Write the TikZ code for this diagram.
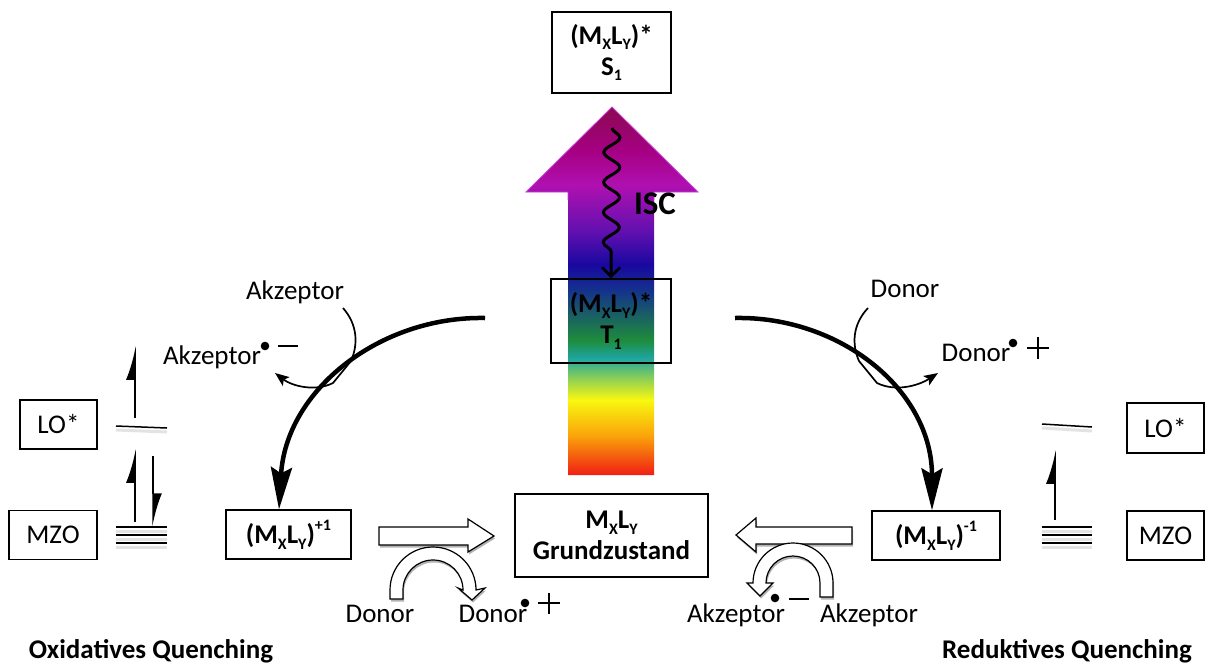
\documentclass[tikz,border=0pt]{standalone}
\usepackage{fontspec}
\setmainfont{Carlito}
\usetikzlibrary{arrows.meta,decorations.pathmorphing,shadows}
\definecolor{rbMaroon}{RGB}{139,10,80}
\definecolor{rbDeep}{RGB}{165,0,130}
\definecolor{rbMag}{RGB}{176,16,176}
\definecolor{rbPurple}{RGB}{100,16,176}
\definecolor{rbBlue}{RGB}{24,8,160}
\definecolor{rbDBlue}{RGB}{20,50,140}
\definecolor{rbGreen}{RGB}{30,140,60}
\definecolor{rbTeal}{RGB}{30,165,160}
\definecolor{rbLGreen}{RGB}{150,210,80}
\definecolor{rbYellow}{RGB}{248,248,16}
\definecolor{rbOrange}{RGB}{250,165,10}
\definecolor{rbRed}{RGB}{240,30,20}
\definecolor{rbEdge}{RGB}{200,60,220}
\pgfdeclareverticalshading{rainbowsh}{100bp}{color(0bp)=(rbRed); color(25bp)=(rbRed); color(30.43bp)=(rbOrange); color(35.19bp)=(rbYellow); color(37.91bp)=(rbLGreen); color(40.9bp)=(rbTeal); color(43.34bp)=(rbGreen); color(50.14bp)=(rbDBlue); color(53.53bp)=(rbBlue); color(58.29bp)=(rbPurple); color(64.4bp)=(rbMag); color(69.16bp)=(rbDeep); color(75bp)=(rbMaroon); color(100bp)=(rbMaroon)}
\newcommand{\subx}[1]{\raisebox{-0.45ex}{\fontsize{16}{16}\selectfont #1}}
\newcommand{\supx}[1]{\raisebox{1.0ex}{\fontsize{16}{16}\selectfont #1}}
\newcommand{\lblfont}{\fontsize{27}{31}\selectfont}
\begin{document}
\begin{tikzpicture}[x=1pt,y=-1pt,
  box/.style={draw, line width=1.3pt, inner sep=0pt, align=center, font=\lblfont\bfseries},
  rbox/.style={draw, line width=1.3pt, inner sep=0pt, align=center, font=\lblfont},
  txt/.style={inner sep=0pt, anchor=base, font=\lblfont},
  ttl/.style={inner sep=0pt, anchor=base, font=\lblfont\bfseries},
  bigarc/.style={line width=4.5pt, -{Stealth[length=42pt,width=21pt,inset=6pt]}},
  thinarc/.style={line width=1.7pt, -{Stealth[length=14pt,width=11pt,inset=3pt]}},
  lvl/.style={line width=1.5pt},
  lvlsh/.style={line width=3pt, gray!22},
  ex/.style={line width=1.5pt, -{Latex[harpoon,length=30pt,width=18pt]}},
  hollow/.style={draw, fill=white, line width=1.2pt, line join=miter,
    drop shadow={shadow xshift=1pt, shadow yshift=-2.5pt, opacity=0.3, fill=black}},
  pm/.style={line width=1.2pt}]
\useasboundingbox (0,0) rectangle (1210,664);

% rainbow excitation arrow
\shade[shading=rainbowsh] (568,475) -- (568,192) -- (526,192) -- (612,107) -- (698,192) -- (654,192) -- (654,475) -- cycle;
\draw[rbEdge, line width=0.8pt, line join=miter] (568,200) -- (568,192) -- (526,192) -- (612,107) -- (698,192) -- (654,192) -- (654,200);

% boxes
\node[box, minimum width=119pt, minimum height=81pt, fill=white] (s1) at (611.5,52.5) {(M\subx{X}L\subx{Y})*\\S\subx{1}};
\node[box, minimum width=120pt, minimum height=84pt] (t1) at (611,321) {(M\subx{X}L\subx{Y})*\\T\subx{1}};
\node[box, minimum width=193pt, minimum height=83pt] (gz) at (611.5,535.5) {M\subx{X}L\subx{Y}\\Grundzustand};
\node[box, minimum width=125pt, minimum height=49pt] (ox) at (288.5,534.5) {(M\subx{X}L\subx{Y})\supx{+1}};
\node[box, minimum width=128pt, minimum height=49pt] (rd) at (936,535.5) {(M\subx{X}L\subx{Y})\supx{-1}};
\node[rbox, minimum width=77pt, minimum height=49pt] (loL) at (58.5,424.5) {LO*};
\node[rbox, minimum width=88pt, minimum height=49pt] (mzoL) at (53,535) {MZO};
\node[rbox, minimum width=77pt, minimum height=50pt] (loR) at (1165.5,428) {LO*};
\node[rbox, minimum width=77pt, minimum height=49pt] (mzoR) at (1165.5,535.5) {MZO};

% ISC
\coordinate (iscstart) at (612,128);
\draw[line width=3pt, decorate, decoration={snake, amplitude=8pt, segment length=30pt, post length=16pt},
  -{Straight Barb[length=9pt,width=18pt,line width=2.8pt]}] (iscstart) -- (t1.north);
\node[inner sep=0pt, font=\fontsize{33}{36}\selectfont\bfseries] (isc) at (655,204) {ISC};

% labels
\node[txt] (akz1) at (295,299) {Akzeptor};
\node[txt] (akz2) at (212,364) {Akzeptor};
\node[txt] (don1) at (905,297) {Donor};
\node[txt] (don2) at (976,361) {Donor};
\node[txt] (don3) at (380,622) {Donor};
\node[txt] (don4) at (493,622) {Donor};
\node[txt] (akz3) at (736,622) {Akzeptor};
\node[txt] (akz4) at (869,622) {Akzeptor};
\node[ttl] (oxq) at (151,658) {Oxidatives Quenching};
\node[ttl] (redq) at (1067,658) {Reduktives Quenching};

% radical signs
\fill (265,346) circle (4.3pt);
\draw[pm] (278,346) -- (298,346);
\fill (1013,343) circle (4.3pt);
\draw[pm] (1027,348) -- (1049,348); \draw[pm] (1038,337) -- (1038,359);
\fill (525,603) circle (4.3pt);
\draw[pm] (538,603) -- (560,603); \draw[pm] (549,593) -- (549,614);
\fill (775,598) circle (4.3pt);
\draw[pm] (789,599) -- (809,599);

% thin side arrows
\coordinate (a1s) at (343,308);
\coordinate (a1e) at (275,373);
\draw[thinarc] (a1s) .. controls (358,325) and (358,345) .. (351,361) -- (333,383) .. controls (315,392) and (292,386) .. (a1e);
\coordinate (d1s) at (868,308);
\coordinate (d1e) at (938,373);
\draw[thinarc] (d1s) .. controls (852,325) and (852,345) .. (859,361) -- (877,383) .. controls (895,392) and (918,386) .. (d1e);

% big quenching arcs
\coordinate (lstart) at (485,318);
\coordinate (rstart) at (735,318);
\draw[bigarc] (lstart) .. controls (380,316) and (286,390) .. ([xshift=-9.5pt]ox.north);
\draw[bigarc] (rstart) .. controls (840,316) and (932,390) .. ([xshift=-4pt]rd.north);

% hollow straight arrows
\path[hollow] (379,527) -- (468,527) -- (468,519) -- (494,536) -- (468,552) -- (468,545) -- (379,545) -- cycle;
\path[hollow] (852,527) -- (756,527) -- (756,518) -- (736,535) -- (756,552) -- (756,544) -- (852,544) -- cycle;

% hollow curved arrows
\path[hollow] (390,599) -- (390,590) arc[start angle=180, end angle=0, radius=43pt] -- (485,588) -- (472,600) -- (458,588) -- (463,590)
  arc[start angle=0, end angle=180, radius=30pt] -- (403,599) -- cycle;
\path[hollow] (833,597) -- (833,583) arc[start angle=0, end angle=180, radius=40pt] -- (747,583) -- (760,596) -- (773,583) -- (766,583)
  arc[start angle=180, end angle=0, radius=27pt] -- (820,597) -- cycle;

% energy levels left
\draw[lvlsh] (116,430) -- (167,432);
\draw[lvl] (116,426) -- (167,428);
\foreach \yy in {527,535,543} {\draw[lvlsh] (116,\yy+4) -- (167,\yy+4);}
\foreach \yy in {527,535,543} {\draw[lvl] (116,\yy) -- (167,\yy);}
\coordinate (lA) at (135,418); \coordinate (lB) at (135,346);
\coordinate (lC) at (135,522); \coordinate (lD) at (135,449);
\coordinate (lE) at (153,456); \coordinate (lF) at (153,527);
\draw[ex] (lA) -- (lB);
\draw[ex] (lC) -- (lD);
\draw[ex] (lE) -- (lF);

% energy levels right
\draw[lvlsh] (1042,428) -- (1092,431);
\draw[lvl] (1042,424) -- (1092,427);
\foreach \yy in {527,535,543} {\draw[lvlsh] (1042,\yy+4) -- (1092,\yy+4);}
\foreach \yy in {527,535,543} {\draw[lvl] (1042,\yy) -- (1092,\yy);}
\coordinate (rA) at (1055,520); \coordinate (rB) at (1055,450);
\draw[ex] (rA) -- (rB);
\end{tikzpicture}
\end{document}
